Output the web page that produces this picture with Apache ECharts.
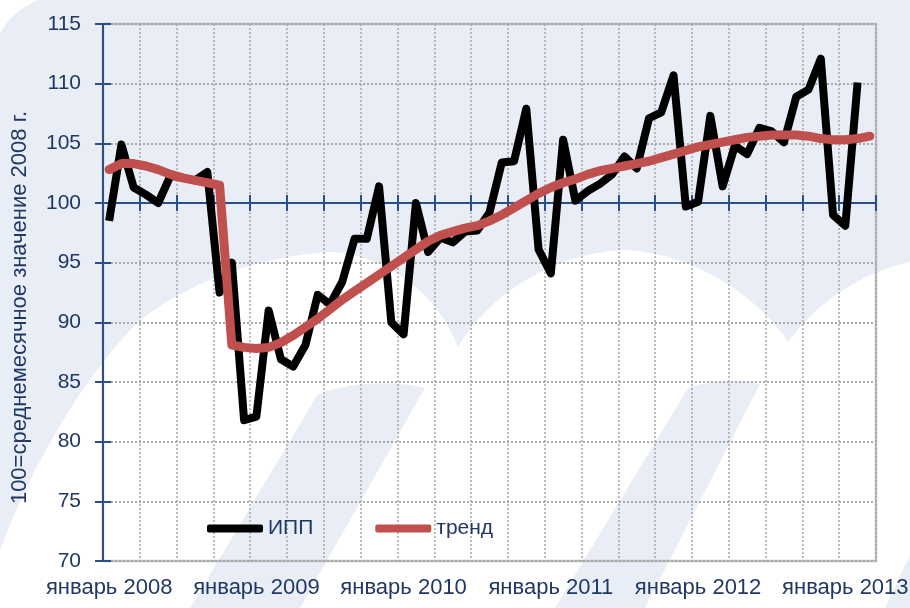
<!DOCTYPE html>
<html>
<head>
<meta charset="utf-8">
<script src="https://cdn.jsdelivr.net/npm/echarts@6/dist/echarts.min.js"></script>
<style>
  html, body { margin: 0; padding: 0; background: #e9edf5; }
  #wrap { position: relative; width: 910px; height: 608px; }
  #bg { position: absolute; left: 0; top: 0; }
  #chart { position: absolute; left: 0; top: 0; width: 910px; height: 608px; }
</style>
</head>
<body>
<div id="wrap">
  <!-- фон: светлые "водяные" полосы -->
  <svg id="bg" width="910" height="608" xmlns="http://www.w3.org/2000/svg">
    <rect x="0" y="0" width="910" height="608" fill="#e9edf5"/>
    <path fill="#ffffff" d="M0 608 L0 550 C30 470 80 380 140 320 C200 275 270 255 333 252 C395 258 440 300 458 347 C485 300 550 252 625 250 C700 254 760 300 788 342 C815 305 860 272 910 262 L910 608 Z"/>
    <path fill="#e9edf5" d="M190 608 L318 394 C350 382 395 380 425 388 L300 608 Z"/>
    <path fill="#e9edf5" d="M555 608 L688 388 C712 380 740 380 760 384 L645 608 Z"/>
    <path fill="#e9edf5" d="M885 608 L910 555 L910 608 Z"/>
    <path fill="#ffffff" d="M0 0 L38 0 C20 8 8 18 0 34 Z"/>
  </svg>
  <div id="chart"></div>
</div>
<script>
// месяцы: январь 2008 - март 2013 (последняя категория пустая для ИПП)
var monthNames = ['январь', 'февраль', 'март', 'апрель', 'май', 'июнь',
    'июль', 'август', 'сентябрь', 'октябрь', 'ноябрь', 'декабрь'];
var years = [2008, 2009, 2010, 2011, 2012, 2013];
var monthCount = 63;

var ippValues = [
    98.5, 104.9, 101.3, 100.7, 100.0, 102.3, 102.1, 101.9, 102.6, 92.5, 95.0, 81.8,
    82.1, 91.0, 86.9, 86.3, 88.1, 92.3, 91.5, 93.4, 97.0, 97.0, 101.4, 90.0,
    89.0, 100.0, 95.9, 97.1, 96.7, 97.6, 97.7, 99.2, 103.4, 103.5, 107.9, 96.1,
    94.1, 105.3, 100.2, 101.0, 101.6, 102.4, 103.9, 102.9, 107.1, 107.6, 110.7, 99.7,
    100.1, 107.3, 101.4, 104.8, 104.1, 106.3, 106.0, 105.1, 108.9, 109.5, 112.1, 99.0,
    98.1, 110.1
];

var trendValues = [
    102.8, 103.3, 103.3, 103.1, 102.8, 102.4, 102.1, 101.9, 101.7, 101.5, 88.1, 87.9,
    87.8, 87.9, 88.3, 88.9, 89.6, 90.3, 91.1, 91.9, 92.6, 93.3, 94.0, 94.7,
    95.4, 96.1, 96.8, 97.3, 97.6, 97.9, 98.1, 98.5, 99.0, 99.6, 100.2, 100.8,
    101.3, 101.7, 102.0, 102.4, 102.7, 102.9, 103.1, 103.3, 103.5, 103.8, 104.1, 104.4,
    104.7, 104.9, 105.1, 105.3, 105.5, 105.6, 105.7, 105.7, 105.7, 105.6, 105.4, 105.3,
    105.3, 105.4, 105.6
];

var yMin = 70, yMax = 115, yStep = 5;
var baseLevel = 100;   // уровень, на котором проходит ось X с делениями

var categories = [];
for (var i = 0; i < monthCount; i++) {
    categories.push(monthNames[i % 12] + ' ' + years[Math.floor(i / 12)]);
}

var navy = '#2b5089';
var textNavy = '#1f3864';
var grey = '#a6a6a6';
var font = 'Liberation Sans, Arial, sans-serif';

var gridLeft = 103, gridRight = 34, gridTop = 24, gridBottom = 47;
var chartHeight = 608;
var plotHeight = chartHeight - gridTop - gridBottom;
// вторая (невидимая) сетка, нижний край которой совпадает с уровнем 100
var baseBottom = chartHeight - (gridTop + plotHeight * (yMax - baseLevel) / (yMax - yMin));

var chart = echarts.init(document.getElementById('chart'));

function axis100(inside) {
    return {
        type: 'category',
        gridIndex: 1,
        data: categories,
        boundaryGap: true,
        position: 'bottom',
        axisLine: { show: true, lineStyle: { color: navy, width: 2 } },
        axisTick: { show: true, interval: 2, inside: inside, length: 8, lineStyle: { color: navy, width: 2 } },
        axisLabel: { show: false },
        splitLine: { show: false }
    };
}

function yAxisBase(inside, labels) {
    return {
        type: 'value',
        gridIndex: 0,
        min: yMin,
        max: yMax,
        interval: yStep,
        position: 'left',
        axisLine: { show: true, lineStyle: { color: navy, width: 2 } },
        axisTick: { show: true, inside: inside, length: 8, lineStyle: { color: navy, width: 2 } },
        axisLabel: labels ? {
            show: true, margin: 22, color: textNavy, fontSize: 21, fontFamily: font
        } : { show: false },
        splitLine: {
            show: true,
            lineStyle: { color: grey, type: [2, 2], width: 1.5 }
        }
    };
}

var yName = yAxisBase(false, true);
yName.name = '100=среднемесячное значение 2008 г.';
yName.nameLocation = 'middle';
yName.nameGap = 72;
yName.nameTextStyle = { color: textNavy, fontSize: 22, fontFamily: font, padding: [0, 30, 0, 0] };

var option = {
    backgroundColor: 'transparent',
    animation: false,
    grid: [
        {
            left: gridLeft,
            right: gridRight,
            top: gridTop,
            bottom: gridBottom,
            outerBoundsMode: 'none',
            show: true,
            borderColor: '#bfbfbf',
            borderWidth: 2.5
        },
        {
            left: gridLeft,
            right: gridRight,
            top: gridTop,
            bottom: baseBottom,
            outerBoundsMode: 'none',
            show: false
        }
    ],
    legend: {
        left: 207,
        top: 518,
        padding: 0,
        icon: 'roundRect',
        itemWidth: 56,
        itemHeight: 8,
        itemGap: 62,
        textStyle: { color: textNavy, fontSize: 21, fontFamily: font },
        data: ['ИПП', 'тренд']
    },
    xAxis: [
        {
            type: 'category',
            gridIndex: 0,
            data: categories,
            boundaryGap: true,
            position: 'bottom',
            axisLine: { show: false },
            axisTick: { show: false },
            axisLabel: {
                interval: 11,
                margin: 16,
                color: textNavy,
                fontSize: 22,
                fontFamily: font
            },
            splitLine: { show: true, interval: 2, lineStyle: { color: grey, type: [2, 2], width: 1.5 } }
        },
        axis100(false),
        axis100(true)
    ],
    yAxis: [
        yName,
        yAxisBase(true, false),
        { type: 'value', gridIndex: 1, min: 0, max: 1, show: false }
    ],
    series: [
        {
            name: 'ИПП',
            type: 'line',
            xAxisIndex: 0,
            yAxisIndex: 0,
            data: ippValues,
            showSymbol: false,
            symbol: 'none',
            color: '#000000',
            lineStyle: { color: '#000000', width: 8, join: 'round' },
            z: 3
        },
        {
            name: 'тренд',
            type: 'line',
            xAxisIndex: 0,
            yAxisIndex: 0,
            data: trendValues,
            showSymbol: false,
            symbol: 'none',
            color: '#c0504d',
            lineStyle: { color: '#c0504d', width: 9, cap: 'round', join: 'round' },
            z: 4
        }
    ]
};

chart.setOption(option);
</script>
</body>
</html>
